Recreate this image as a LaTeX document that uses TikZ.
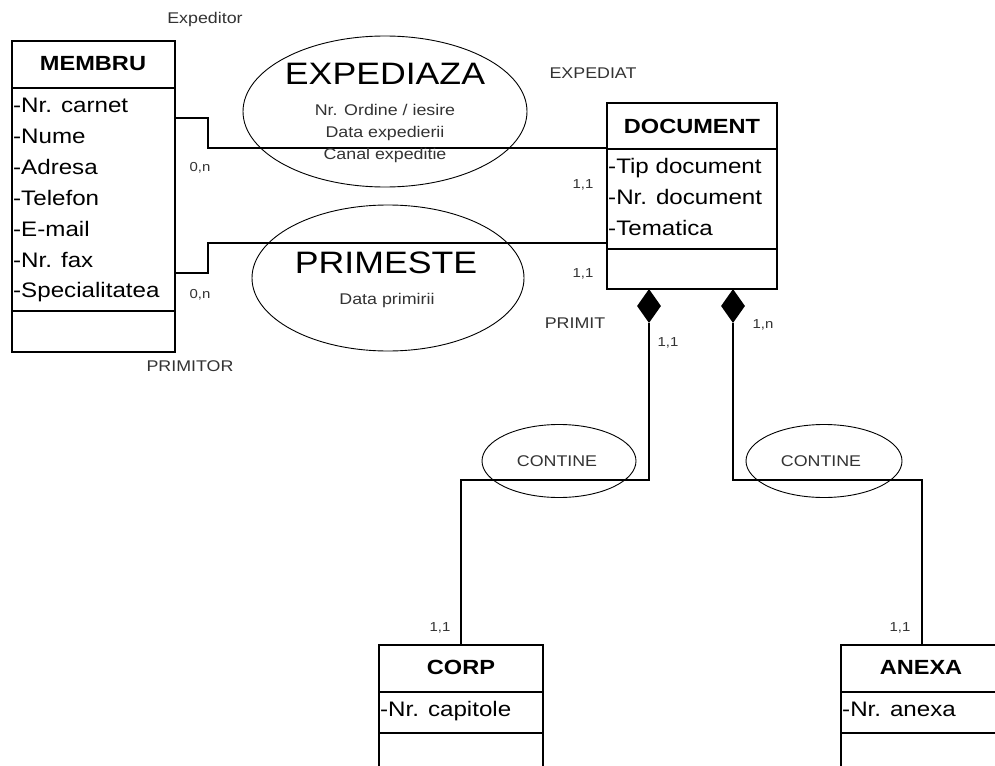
\documentclass[tikz,border=0pt]{standalone}
\usepackage{fontspec}
\setmainfont{Liberation Sans}[FakeStretch=1.15]
\usetikzlibrary{shapes.geometric}
\tikzset{
  cls/.style={draw, line width=1.6pt, inner sep=0pt},
  link/.style={line width=1.2pt},
  rel/.style={draw, ellipse, line width=0.9pt, inner sep=0pt},
  attr/.style={anchor=base west, inner sep=0pt, font=\fontsize{21}{21}\selectfont},
  title/.style={inner sep=0pt, font=\bfseries\fontsize{20.5}{20.5}\selectfont},
  lbl/.style={inner sep=0pt, text=black!80, font=\fontsize{15.5}{15.5}\selectfont},
  card/.style={inner sep=0pt, text=black!80, font=\fontsize{13}{13}\selectfont},
  big/.style={inner sep=0pt, font=\fontsize{31}{31}\selectfont},
  comp/.style={diamond, fill=black, inner sep=0pt, minimum width=24pt, minimum height=34pt}
}
\begin{document}
\begin{tikzpicture}[x=1pt, y=-1pt]
\clip (0,0) rectangle (995,765);
\fill[white] (0,0) rectangle (995,765);

% clase
\node[cls, minimum width=163pt, minimum height=311pt] (membru) at (93.5,196.5) {};
\draw[cls] (membru.west |- 0,88) -- (membru.east |- 0,88);
\draw[cls] (membru.west |- 0,311) -- (membru.east |- 0,311);
\node[title] (tmembru) at (93,64) {MEMBRU};
\foreach \t [count=\i from 0] in {Nr. carnet, Nume, Adresa, Telefon, E-mail, Nr. fax, Specialitatea}
  \node[attr] (am\i) at (13,113+30.8*\i) {-\t};

\node[cls, minimum width=170pt, minimum height=186pt] (document) at (692,196) {};
\draw[cls] (document.west |- 0,149) -- (document.east |- 0,149);
\draw[cls] (document.west |- 0,249) -- (document.east |- 0,249);
\node[title] (tdocument) at (692,126) {DOCUMENT};
\foreach \t [count=\i from 0] in {Tip document, Nr. document, Tematica}
  \node[attr] (ad\i) at (608,173+31*\i) {-\t};

\node[cls, minimum width=164pt, minimum height=160pt] (corp) at (461,725) {};
\draw[cls] (corp.west |- 0,692) -- (corp.east |- 0,692);
\draw[cls] (corp.west |- 0,733) -- (corp.east |- 0,733);
\node[title] (tcorp) at (461,667) {CORP};
\node[attr] (ac0) at (380,716) {-Nr. capitole};

\node[cls, minimum width=162pt, minimum height=160pt] (anexa) at (922,725) {};
\draw[cls] (anexa.west |- 0,692) -- (anexa.east |- 0,692);
\draw[cls] (anexa.west |- 0,733) -- (anexa.east |- 0,733);
\node[title] (tanexa) at (921,667) {ANEXA};
\node[attr] (aa0) at (842,716) {-Nr. anexa};

% legaturi membru - document
\coordinate (b1) at (208,118);
\coordinate (b2) at (208,148);
\coordinate (b3) at (208,273);
\coordinate (b4) at (208,243);
\draw[link] (membru.east |- b1) -- (b1) -- (b2) -- (b2 -| document.west);
\draw[link] (membru.east |- b3) -- (b3) -- (b4) -- (b4 -| document.west);

% compozitii
\node[comp] (dia1) at (649,306) {};
\node[comp] (dia2) at (733,306) {};
\coordinate (k1) at (649,480);
\coordinate (k2) at (733,480);
\draw[link] (dia1.south) -- (k1) -| (corp.north);
\draw[link] (dia2.south) -- (k2) -| (anexa.north);

% asocieri
\node[rel, minimum width=284pt, minimum height=151pt] (expediaza) at (385,111.5) {};
\node[big] (texp) at (385,74) {EXPEDIAZA};
\node[lbl] (e1) at (385,110) {Nr. Ordine / iesire};
\node[lbl] (e2) at (385,133) {Data expedierii};
\node[lbl] (e3) at (385,155) {Canal expeditie};

\node[rel, minimum width=272pt, minimum height=146pt] (primeste) at (388,278) {};
\node[big] (tprim) at (386,263) {PRIMESTE};
\node[lbl] (p1) at (387,300) {Data primirii};

\node[rel, minimum width=154pt, minimum height=73pt] (contine1) at (559,461) {};
\node[lbl] (c1) at (557,461) {CONTINE};
\node[rel, minimum width=156pt, minimum height=73pt] (contine2) at (824,461) {};
\node[lbl] (c2) at (821,461) {CONTINE};

% roluri si cardinalitati
\node[lbl] (rexpeditor) at (205,19) {Expeditor};
\node[lbl] (rprimitor) at (190,366) {PRIMITOR};
\node[lbl] (rexpediat) at (593,73) {EXPEDIAT};
\node[lbl] (rprimit) at (575,323) {PRIMIT};
\node[card] (k01) at (200,168) {0,n};
\node[card] (k02) at (200,295) {0,n};
\node[card] (k11) at (583,185) {1,1};
\node[card] (k12) at (583,274) {1,1};
\node[card] (k13) at (668,343) {1,1};
\node[card] (k14) at (763,325) {1,n};
\node[card] (k15) at (440,628) {1,1};
\node[card] (k16) at (900,628) {1,1};
\end{tikzpicture}
\end{document}
